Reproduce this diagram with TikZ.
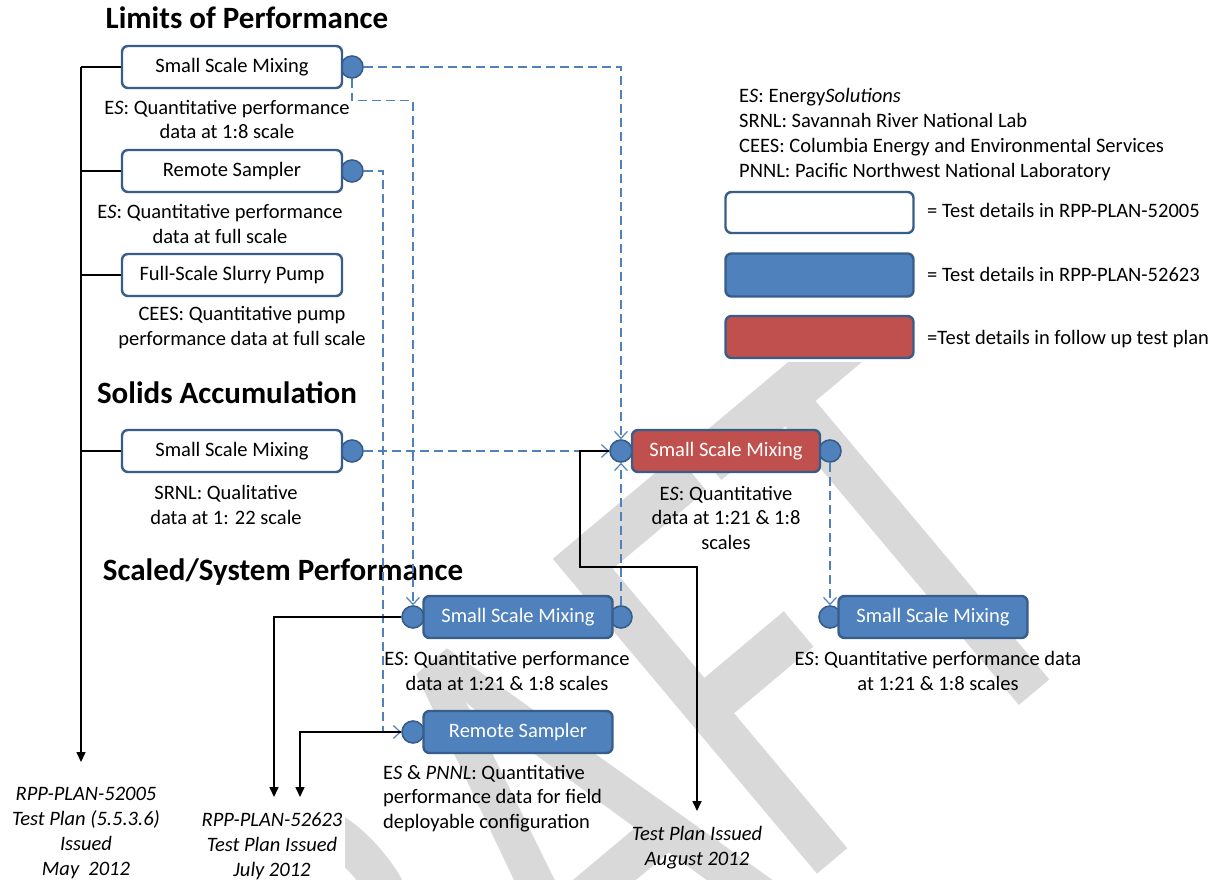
\documentclass[tikz,border=0pt]{standalone}
\usepackage{fontspec}
\setmainfont{Carlito}
\usepackage{xcolor}
\usetikzlibrary{arrows.meta}
\definecolor{edgeblue}{HTML}{385D8A}
\definecolor{fillblue}{HTML}{4F81BD}
\definecolor{fillred}{HTML}{C0504D}
\definecolor{linkblue}{HTML}{4F81BD}
\definecolor{wmgray}{HTML}{D9D9D9}

\tikzset{
  tbox/.style={rounded corners=6pt, draw=edgeblue, line width=2.4pt, minimum height=42pt, inner sep=0pt, font=\fontsize{20.5}{24.5}\selectfont},
  wbox/.style={tbox, fill=white, minimum width=220pt},
  bbox/.style={tbox, fill=fillblue, text=white, minimum width=189pt},
  rbox/.style={tbox, fill=fillred, text=white, minimum width=188pt},
  port/.style={circle, draw=edgeblue, fill=fillblue, line width=1.6pt, minimum size=22pt, inner sep=0pt},
  dlink/.style={draw=linkblue, line width=1.4pt, dash pattern=on 9pt off 5pt, -{Straight Barb[length=7pt,width=13pt,line width=1.2pt]}},
  blink/.style={line width=1.6pt, -{Triangle[length=10pt,width=9pt]}},
  caption/.style={font=\fontsize{20.5}{24.5}\selectfont, align=center, inner sep=0pt, anchor=base},
  planlabel/.style={caption, font=\fontsize{20.5}{25}\selectfont\itshape},
  heading/.style={font=\fontsize{31}{36}\selectfont\bfseries, inner sep=0pt, anchor=base},
}

\begin{document}
\begin{tikzpicture}[x=1pt, y=-1pt]
\useasboundingbox (0,0) rectangle (1215,880);

% % DRAFT mark behind the chart
\begin{scope}
  \clip (345,362) rectangle (1215,880);
  \begin{scope}[shift={(1035,692)}, rotate=40, yscale=1.44]
    \node[transform shape, text=wmgray, font=\fontsize{445}{445}\selectfont, inner sep=0pt, anchor=base east] (wm) at (108pt,0pt) {DRAFT};
  \end{scope}
\end{scope}

\node[heading] (hLim) at (247,29) {Limits of Performance};
\node[heading] (hSol) at (227,403) {Solids Accumulation};
\node[heading] (hSca) at (283,580) {Scaled/System Performance};

\node[port] (pW1) at (352,67) {};
\node[port] (pW2) at (352,171) {};
\node[port] (pW4) at (352,451) {};
\node[port] (pRl) at (621,451) {};
\node[port] (pRr) at (830,451) {};
\node[port] (pCl) at (413,617) {};
\node[port] (pCr) at (621,617) {};
\node[port] (pSl) at (413,732) {};
\node[port] (pDl) at (830,617) {};

\node[wbox] (W1) at (232,67) {Small Scale Mixing};
\node[wbox] (W2) at (232,171) {Remote Sampler};
\node[wbox] (W3) at (232,275) {Full-Scale Slurry Pump};
\node[wbox] (W4) at (232,451) {Small Scale Mixing};
\node[rbox] (R1) at (726,451) {Small Scale Mixing};
\node[bbox] (C1) at (518,617) {Small Scale Mixing};
\node[bbox] (C2) at (518,732) {Remote Sampler};
\node[bbox] (D1) at (933,617) {Small Scale Mixing};

\node[caption] (cW1) at (227,139) {E\textit{S}: Quantitative performance\\data at 1:8 scale};
\node[caption] (cW2) at (220,243) {E\textit{S}: Quantitative performance\\data at full scale};
\node[caption] (cW3) at (242,345) {CEES: Quantitative pump\\performance data at full scale};
\node[caption] (cW4) at (226,524) {SRNL: Qualitative\\data at 1: 22 scale};
\node[caption] (cR1) at (726,549) {E\textit{S}: Quantitative\\data at 1:21 \& 1:8\\scales};
\node[caption] (cC1) at (507,690) {E\textit{S}: Quantitative performance\\data at 1:21 \& 1:8 scales};
\node[caption, align=left, anchor=base west] (cC2) at (383,828) {E\textit{S} \& \textit{PNNL}: Quantitative\\performance data for field\\deployable configuration};
\node[caption] (cD1) at (938,690) {E\textit{S}: Quantitative performance data\\at 1:21 \& 1:8 scales};

\node[planlabel] (tp1) at (86,875) {RPP-PLAN-52005\\Test Plan (5.5.3.6)\\Issued\\May~~2012};
\node[planlabel] (tp2) at (272,876) {RPP-PLAN-52623\\Test Plan Issued\\July 2012};
\node[planlabel] (tp3) at (697,865) {Test Plan Issued\\August 2012};

% % legend
\node[caption, align=left, anchor=base west, font=\fontsize{20.5}{24.8}\selectfont] (lgText) at (739,177) {E\textit{S}: Energy\textit{Solutions}\\SRNL: Savannah River National Lab\\CEES: Columbia Energy and Environmental Services\\PNNL: Pacific Northwest National Laboratory};
\node[wbox, minimum width=188pt, minimum height=41pt] (lgW) at (819.5,212.5) {};
\node[bbox, minimum width=188pt, minimum height=43pt] (lgB) at (819.5,275) {};
\node[rbox, minimum width=188pt, minimum height=42pt] (lgR) at (819.5,337) {};
\node[caption, anchor=base west] (lgWt) at (927,217) {= Test details in RPP-PLAN-52005};
\node[caption, anchor=base west] (lgBt) at (927,281) {= Test details in RPP-PLAN-52623};
\node[caption, anchor=base west] (lgRt) at (927,344) {=Test details in follow up test plan};

\draw[dlink] (pW1.east) -| (pRl.north);
\draw[dlink] (pW1.south) -- ++(0,22) -| (pCl.north);
\draw[dlink] (pW2.east) -- ++(19,0) |- (pSl.west);
\draw[dlink] (pW4.east) -- (pRl.west);
\draw[dlink] (pCr.north) -- (pRl.south);
\draw[dlink] (pRr.south) -- (pDl.north);

\coordinate (trunk) at (81,67);
\coordinate (trunkend) at (81,762);
\coordinate (inA) at (274,797);
\coordinate (inB) at (300,797);
\coordinate (bendA) at (580,567);
\coordinate (outC) at (697,811);
\draw[line width=1.6pt] (W1.west) -- (trunk);
\draw[blink] (trunk) -- (trunkend);
\foreach \b in {W2,W3,W4}
  \draw[line width=1.6pt] (\b.west) -- (\b.west -| trunk);
\draw[blink] (pCl.west) -| (inA);
\draw[blink] (pSl.west) -| (inB);
\draw[blink] (pRl.west) -| (bendA) -| (outC);
\end{tikzpicture}
\end{document}
